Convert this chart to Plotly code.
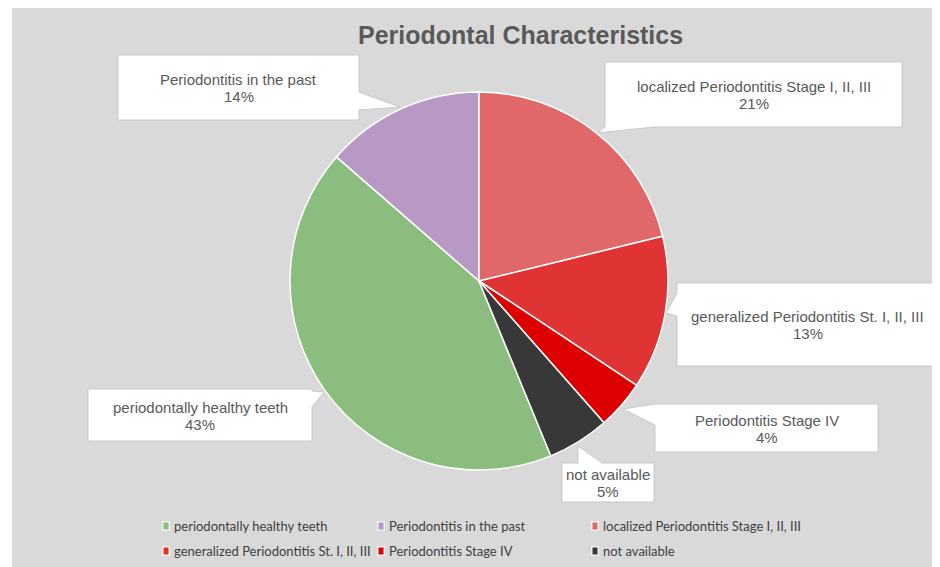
import plotly.graph_objects as go

# the page body adds an 8px offset; figure fills the rest of the 940x567 window
OFF = 8
W, H = 940 - OFF, 567 - OFF

# ---- data (legend order) ----
labels = ["periodontally healthy teeth", "Periodontitis in the past",
          "localized Periodontitis Stage I, II, III",
          "generalized Periodontitis St. I, II, III",
          "Periodontitis Stage IV", "not available"]
values = [42.6, 13.6, 21.2, 13.1, 4.2, 5.3]
colors = ["#8bbe7e", "#b899c5", "#e06868", "#e03333", "#dd0000", "#383838"]
title_text = "Periodontal Characteristics"

total = sum(values)
pct_text = [f"{round(v / total * 100):.0f}%" for v in values]
# first drawn slice (healthy) starts after localized..not available, clockwise from 12 o'clock
rotation = 360 * sum(values[2:]) / total

def px(x):
    return (x - OFF) / W

def py(y):
    return 1 - (y - OFF) / H

fig = go.Figure()

# pie: centre (479, 281), radius 189 px (window coordinates)
cx, cy, r = 479, 281, 189
fig.add_trace(go.Pie(
    labels=labels, values=values, sort=False, direction="clockwise",
    rotation=rotation, textinfo="none", hoverinfo="label+percent",
    marker=dict(colors=colors, line=dict(color="white", width=1.5)),
    domain=dict(x=[px(cx - r), px(cx + r)], y=[py(cy + r), py(cy - r)]),
    showlegend=False,
))

shapes = []
annotations = []

# grey chart area
shapes.append(dict(type="rect", xref="paper", yref="paper", layer="below",
                   x0=px(12), x1=1, y0=0, y1=1,
                   fillcolor="#d9d9d9", line=dict(width=0)))

# callouts: box (x0,y0,x1,y1), side, p1, tip, p2
callouts = {
    0: ((88, 389, 312, 441), "right", 391, (324, 392), 407),
    1: ((118, 55, 359, 120), "right", 92, (400, 107), 110),
    2: ((605, 62, 902, 127), "bottom", 605, (597, 133), 655),
    3: ((677, 283, 938, 366), "left", 293, (666, 313), 316),
    4: ((655, 404, 878, 452), "left", 404, (623, 409), 425),
    5: ((562, 463, 654, 502), "top", 578, (578, 446), 602),
}

def callout_path(box, side, p1, tip, p2):
    x0, y0, x1, y1 = box
    pts = [(x0, y0)]
    if side == "top":
        pts += [(p1, y0), tip, (p2, y0)]
    pts += [(x1, y0)]
    if side == "right":
        pts += [(x1, p1), tip, (x1, p2)]
    pts += [(x1, y1)]
    if side == "bottom":
        pts += [(p2, y1), tip, (p1, y1)]
    pts += [(x0, y1)]
    if side == "left":
        pts += [(x0, p2), tip, (x0, p1)]
    d = "M " + " L ".join(f"{px(a):.5f},{py(b):.5f}" for a, b in pts) + " Z"
    return d

label_font = dict(family="Liberation Sans, Arial, sans-serif", size=15, color="#595959")
for i, (box, side, p1, tip, p2) in callouts.items():
    shapes.append(dict(type="path", xref="paper", yref="paper",
                       path=callout_path(box, side, p1, tip, p2),
                       fillcolor="white", line=dict(color="#c9c9c9", width=1)))
    x0, y0, x1, y1 = box
    xc, yc = (x0 + x1) / 2, (y0 + y1) / 2
    for txt, dy in ((labels[i], -8), (pct_text[i], 9)):
        annotations.append(dict(
            xref="paper", yref="paper", x=px(xc), y=py(yc + dy),
            xanchor="center", yanchor="middle", showarrow=False,
            text=txt, font=label_font,
        ))

# title
annotations.append(dict(
    xref="paper", yref="paper", x=px(520), y=py(35), xanchor="center", yanchor="middle",
    showarrow=False, text=f"<b>{title_text}</b>",
    font=dict(family="Liberation Sans, Arial, sans-serif", size=25, color="#595959"),
))

# manual legend: 3 columns x 2 rows
col_x = [163, 378, 592]
row_y = [526, 551]
for i, lab in enumerate(labels):
    x = col_x[i % 3]
    y = row_y[i // 3]
    shapes.append(dict(type="rect", xref="paper", yref="paper",
                       x0=px(x - 1), x1=px(x + 7), y0=py(y + 5), y1=py(y - 5),
                       fillcolor="#f2f2f2", line=dict(width=0)))
    shapes.append(dict(type="rect", xref="paper", yref="paper",
                       x0=px(x + 0.5), x1=px(x + 5.5), y0=py(y + 3.5), y1=py(y - 3.5),
                       fillcolor=colors[i], line=dict(width=0)))
    annotations.append(dict(
        xref="paper", yref="paper", x=px(x + 9), y=py(y), xanchor="left", yanchor="middle",
        showarrow=False, text=lab,
        font=dict(family="Lato, Liberation Sans Narrow, sans-serif", size=13, color="#404040"),
    ))

fig.update_layout(
    width=W, height=H, margin=dict(l=0, r=0, t=0, b=0),
    paper_bgcolor="white", plot_bgcolor="white",
    shapes=shapes, annotations=annotations, showlegend=False,
)

fig.write_html("out.html")
